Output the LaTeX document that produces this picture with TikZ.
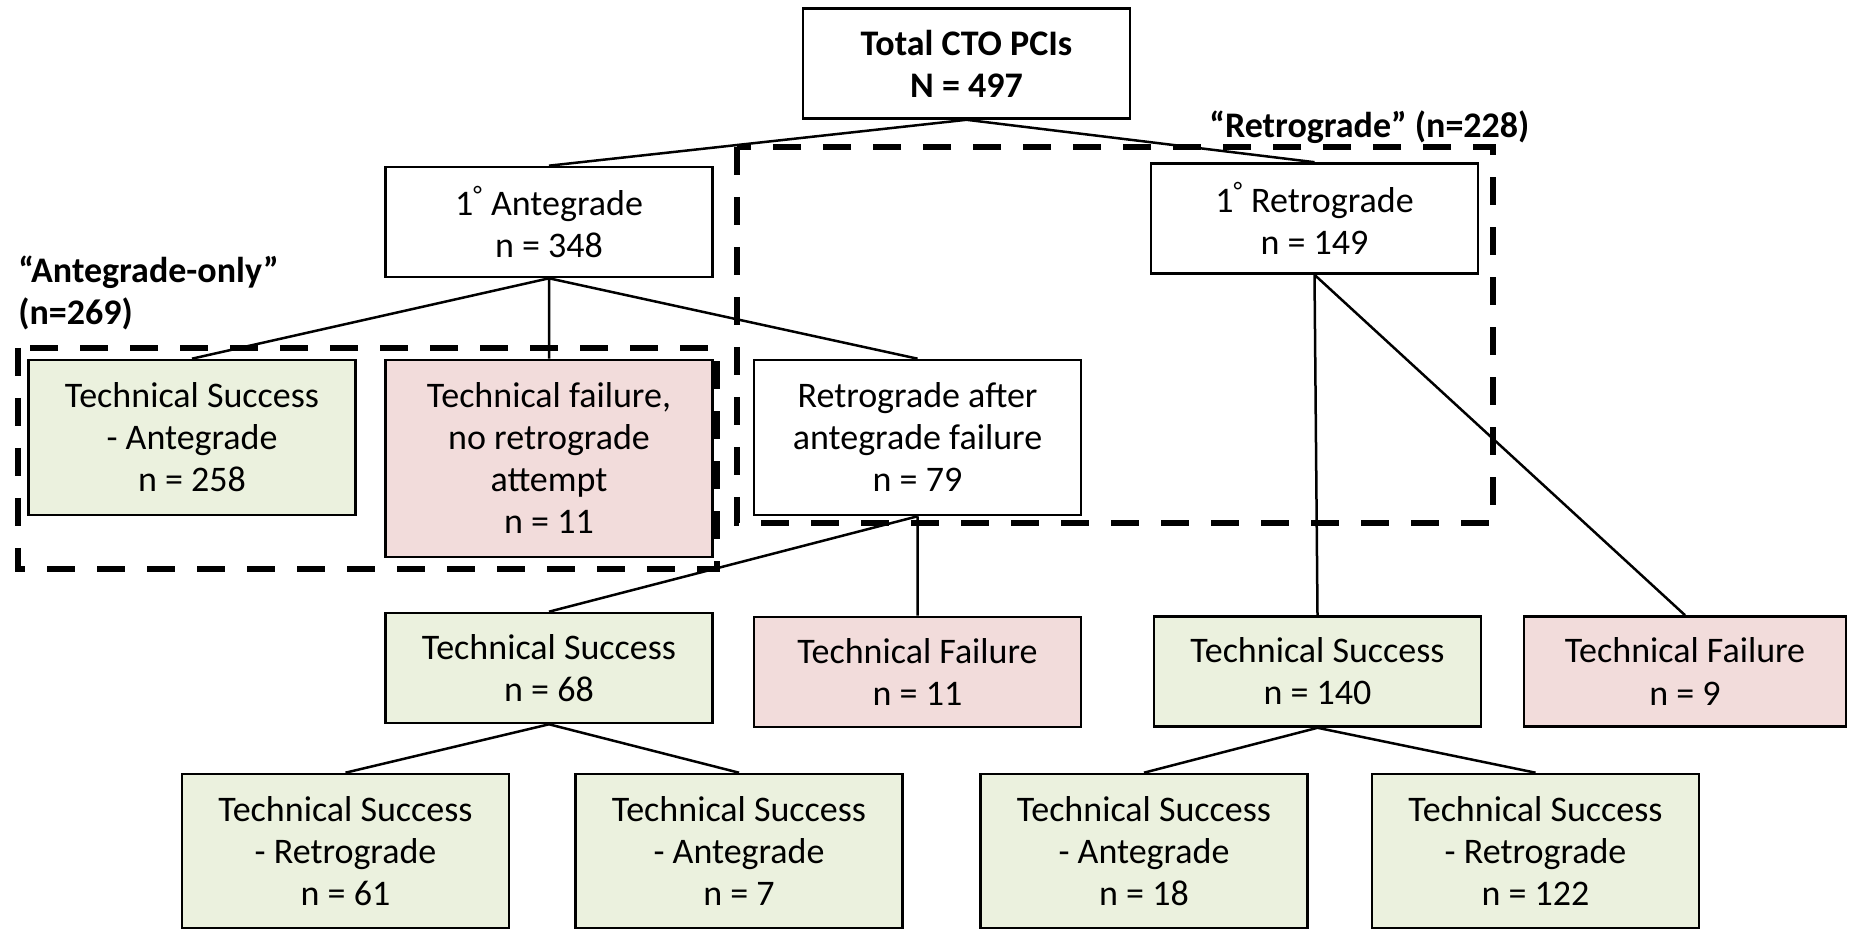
\documentclass[tikz,border=0pt]{standalone}
\usepackage{fontspec}
\setmainfont{Carlito}
\usepackage{xcolor}
\usetikzlibrary{positioning}
\definecolor{okgreen}{HTML}{EBF1DE}
\definecolor{failpink}{HTML}{F2DCDB}
\tikzset{
box/.style={draw, line width=1.3pt, align=center, inner sep=0pt, minimum width=163.5pt, minimum height=55pt, font=\fontsize{18}{21}\selectfont},
okbox/.style={box, fill=okgreen},
failbox/.style={box, fill=failpink},
grp/.style={line width=2.6pt, dash pattern=on 14pt off 11pt},
lbl/.style={font=\bfseries\fontsize{18}{21}\selectfont, inner sep=0pt, align=left},
link/.style={line width=1.25pt},
}
\newcommand{\prim}{\textsuperscript{°}}

\begin{document}
\begin{tikzpicture}[x=0.5pt, y=-0.5pt]
\useasboundingbox (0,0) rectangle (1850,929);
    % groups
    \draw[grp] (18,348) rectangle (717,569);
    \draw[grp] (737,147) rectangle (1493,523);
    \node[lbl, anchor=west] (antlbl) at (18,293) {“Antegrade-only”\\(n=269)};
    \node[lbl, anchor=west] (retlbl) at (1209,127) {“Retrograde” (n=228)};
    % top levels
    \node[box, font=\bfseries\fontsize{18}{21}\selectfont] (tot) at (966.5,63.5) {Total CTO PCIs\\N = 497};
    \node[box] (ante) at (549,222) {1\prim\ Antegrade\\n = 348};
    \node[box] (retro) at (1314.5,218.5) {1\prim\ Retrograde\\n = 149};
    \node[okbox, minimum height=77.5pt] (tsa) at (192,437.5) {Technical Success\\- Antegrade\\n = 258};
    \node[failbox, minimum height=98.5pt] (tfn) at (549,458.5) {Technical failure,\\no retrograde\\attempt\\n = 11};
    \node[box, fill=white, minimum height=77.5pt] (raf) at (917.5,437.5) {Retrograde after\\antegrade failure\\n = 79};
    % second level
    \node[okbox] (ts68) at (549,668) {Technical Success\\n = 68};
    \node[failbox] (tf11) at (917.5,672) {Technical Failure\\n = 11};
    \node[okbox] (ts140) at (1317.5,671.5) {Technical Success\\n = 140};
    \node[failbox, minimum width=161pt] (tf9) at (1685,671.5) {Technical Failure\\n = 9};
    % bottom
    \node[okbox, minimum height=77pt] (ts61) at (345.5,851) {Technical Success\\- Retrograde\\n = 61};
    \node[okbox, minimum height=77pt] (ts7) at (739,851) {Technical Success\\- Antegrade\\n = 7};
    \node[okbox, minimum height=77pt] (ts18) at (1144,851) {Technical Success\\- Antegrade\\n = 18};
    \node[okbox, minimum height=77pt] (ts122) at (1535.5,851) {Technical Success\\- Retrograde\\n = 122};
    \draw[link] (tot.south) -- (ante.north)
    (tot.south) -- (retro.north)
    (ante.south) -- (tsa.north)
    (ante.south) -- (tfn.north)
    (ante.south) -- (raf.north)
    (raf.south) -- (ts68.north)
    (raf.south) -- (tf11.north)
    (retro.south) -- (ts140.north)
    (retro.south) -- (tf9.north)
    (ts68.south) -- (ts61.north)
    (ts68.south) -- (ts7.north)
    (ts140.south) -- (ts18.north)
    (ts140.south) -- (ts122.north);
\end{tikzpicture}
\end{document}
